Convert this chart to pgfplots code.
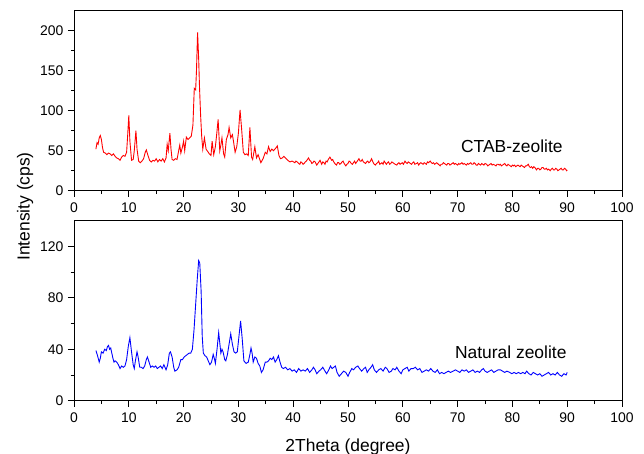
\documentclass[border=0pt]{standalone}
\usepackage{pgfplots}
\pgfplotsset{compat=1.18}
\usepackage{fontspec}
\setmainfont{Liberation Sans}
\begin{document}
\begin{tikzpicture}
\useasboundingbox (0bp,0bp) rectangle (644bp,454bp);
\pgfplotsset{
  panel/.style={
    scale only axis, width=548bp, height=180bp,
    anchor=south west,
    xmin=0, xmax=100,
    xtick={0,10,...,100},
    minor x tick num=1, minor y tick num=1,
    xtick pos=left, ytick pos=left,
    tick align=outside,
    major tick length=6bp, minor tick length=3.5bp,
    axis line style={line width=0.9pt},
    every tick/.style={black, line width=0.8pt},
    ticklabel style={font=\fontsize{14}{16}\selectfont},
    xticklabel style={yshift=-3bp},
    yticklabel style={xshift=-1bp},
    /pgf/number format/assume math mode=true,
    scaled ticks=false,
  }
}
\begin{axis}[panel, at={(74bp,263.3bp)}, ymin=0, ymax=225, ytick={0,50,100,150,200}]
\addplot[red, line width=0.9pt, mark=none] coordinates {
(4.0,52)(4.2,60)(4.4,58)(4.6,66)(4.8,69)(5.0,64)(5.2,54)(5.4,48)(5.7,47)(6.0,45)(6.3,47)(6.6,46)(6.9,44)(7.2,46)(7.5,43)(7.8,41)(8.1,40)(8.4,38)(8.7,42)(9.0,44)(9.3,43)(9.6,48)(9.8,70)(10.0,94)(10.2,62)(10.5,38)(10.8,39)(11.0,50)(11.3,75)(11.5,52)(11.8,37)(12.1,35)(12.4,37)(12.7,40)(13.0,48)(13.2,51)(13.5,44)(13.8,38)(14.1,36)(14.4,38)(14.7,37)(15.0,40)(15.3,36)(15.6,39)(15.9,37)(16.2,40)(16.5,36)(16.8,41)(17.0,58)(17.2,50)(17.5,72)(17.7,52)(17.9,39)(18.2,38)(18.5,40)(18.8,39)(19.1,50)(19.3,57)(19.5,47)(19.8,55)(20.0,62)(20.2,50)(20.5,67)(20.8,64)(21.1,66)(21.4,68)(21.7,82)(21.95,128)(22.2,126)(22.35,150)(22.55,198)(22.75,165)(22.9,130)(23.1,95)(23.3,68)(23.5,52)(23.8,66)(24.1,52)(24.4,49)(24.7,46)(25.0,44)(25.2,62)(25.5,45)(25.8,55)(26.0,68)(26.3,89)(26.6,50)(26.8,57)(27.0,66)(27.3,46)(27.5,42)(27.8,64)(28.1,70)(28.3,79)(28.6,66)(28.9,70)(29.1,62)(29.4,48)(29.7,55)(30.0,72)(30.3,101)(30.6,76)(30.9,48)(31.2,45)(31.5,46)(31.8,44)(32.1,79)(32.4,42)(32.6,39)(33.0,55)(33.3,41)(33.6,45)(34.1,35)(34.5,40)(34.9,48)(35.2,46)(35.5,55)(35.8,49)(36.1,52)(36.4,50)(36.8,53)(37.1,56)(37.4,44)(37.7,40)(38.0,41)(38.3,43)(38.7,40)(39.0,38)(39.4,36)(39.8,37)(40.3,35)(40.5,37)(40.7,36)(41.0,34)(41.2,33)(41.4,36)(41.6,35)(41.8,33)(42.0,34)(42.2,36)(42.4,37)(42.6,39)(42.8,41)(43.0,38)(43.2,37)(43.4,34)(43.6,35)(43.8,37)(44.0,36)(44.3,32)(44.6,35)(44.9,38)(45.2,33)(45.4,36)(45.6,35)(45.8,33)(46.0,37)(46.2,36)(46.4,39)(46.7,42)(47.0,38)(47.2,39)(47.4,36)(47.6,34)(47.9,32)(48.1,35)(48.3,35)(48.5,33)(48.7,34)(48.9,36)(49.1,37)(49.3,34)(49.6,31)(49.8,33)(50.0,34)(50.2,37)(50.4,36)(50.6,34)(50.8,33)(51.0,35)(51.2,37)(51.4,34)(51.6,36)(51.8,38)(52.0,40)(52.2,37)(52.4,37)(52.6,39)(52.8,36)(53.0,35)(53.2,34)(53.4,36)(53.6,37)(53.8,35)(54.0,36)(54.3,40)(54.6,35)(54.8,33)(55.0,32)(55.2,34)(55.4,35)(55.6,37)(55.8,33)(56.0,34)(56.2,35)(56.4,33)(56.6,37)(56.8,35)(57.0,33)(57.2,35)(57.4,36)(57.6,33)(57.8,34)(58.0,36)(58.2,35)(58.4,34)(58.6,33)(58.9,32)(59.1,34)(59.3,35)(59.5,33)(59.7,34)(59.9,35)(60.1,33)(60.4,37)(60.6,35)(60.8,34)(61.0,36)(61.2,35)(61.4,34)(61.6,33)(61.8,35)(62.0,36)(62.2,33)(62.5,34)(62.7,35)(62.9,32)(63.1,34)(63.3,35)(63.5,34)(63.7,33)(63.9,35)(64.1,34)(64.3,33)(64.5,36)(64.7,35)(65.0,37)(65.2,35)(65.4,34)(65.6,35)(65.8,33)(66.0,34)(66.2,35)(66.5,33)(66.8,31)(67.0,33)(67.2,33)(67.4,35)(67.6,34)(67.8,33)(68.0,32)(68.2,34)(68.4,34)(68.6,32)(68.8,33)(69.0,34)(69.2,35)(69.4,33)(69.6,34)(69.8,33)(70.0,32)(70.2,34)(70.4,33)(70.6,34)(70.8,35)(71.0,33)(71.2,34)(71.4,33)(71.6,32)(71.8,34)(72.0,33)(72.2,34)(72.4,35)(72.6,33)(72.8,33)(73.0,35)(73.2,34)(73.4,32)(73.6,32)(73.8,34)(74.0,33)(74.2,32)(74.4,34)(74.6,33)(74.8,32)(75.0,34)(75.3,33)(75.5,31)(75.7,32)(75.9,33)(76.1,34)(76.3,32)(76.5,33)(76.8,32)(77.0,31)(77.2,33)(77.4,33)(77.6,32)(77.8,33)(78.0,31)(78.2,32)(78.4,33)(78.6,34)(78.8,32)(79.0,31)(79.2,33)(79.4,32)(79.6,31)(79.8,30)(80.0,32)(80.2,31)(80.4,32)(80.6,30)(80.8,31)(81.0,32)(81.2,31)(81.4,30)(81.6,32)(81.8,31)(82.0,30)(82.2,29)(82.4,31)(82.6,31)(82.9,33)(83.1,30)(83.3,29)(83.5,30)(83.7,28)(83.9,30)(84.1,29)(84.4,26)(84.6,28)(84.8,28)(85.0,26)(85.2,27)(85.4,29)(85.6,29)(85.8,27)(86.0,27)(86.2,28)(86.4,26)(86.6,27)(86.9,25)(87.1,27)(87.3,28)(87.5,26)(87.7,26)(87.9,28)(88.1,27)(88.3,25)(88.5,26)(88.7,27)(88.9,28)(89.1,26)(89.3,26)(89.5,28)(89.7,27)(89.9,25)(90.0,26)
};
\node[font=\fontsize{17.5}{20}\selectfont] at (axis cs:79.9,56) {CTAB-zeolite};
\end{axis}
\begin{axis}[panel, at={(74bp,53.3bp)}, ymin=0, ymax=140, ytick={0,40,80,120}]
\addplot[blue, line width=0.9pt, mark=none] coordinates {
(4.0,39)(4.3,35)(4.6,30)(4.8,33)(5.0,38)(5.3,37)(5.6,40)(5.9,39)(6.1,42)(6.3,43)(6.5,40)(6.7,41)(6.9,37)(7.1,33)(7.3,30)(7.5,31)(7.8,30)(8.1,28)(8.4,25)(8.7,27)(9.0,26)(9.3,27)(9.6,32)(9.9,42)(10.2,49)(10.5,38)(10.8,28)(11.0,25)(11.2,31)(11.5,38)(11.7,34)(12.0,26)(12.3,26)(12.6,25)(12.9,27)(13.2,32)(13.4,34)(13.7,30)(14.0,26)(14.3,27)(14.6,26)(14.9,27)(15.2,25)(15.5,26)(15.8,27)(16.1,25)(16.4,28)(16.8,24)(17.1,28)(17.4,37)(17.6,38)(17.9,34)(18.2,26)(18.4,23)(18.8,24)(19.1,26)(19.5,32)(19.8,32)(20.1,34)(20.4,35)(20.7,36)(21.0,37)(21.3,37)(21.6,40)(21.9,55)(22.2,75)(22.5,95)(22.75,109)(22.95,107)(23.2,85)(23.4,50)(23.6,37)(23.9,35)(24.2,34)(24.5,31)(24.8,28)(25.1,30)(25.4,36)(25.6,33)(25.8,29)(26.1,40)(26.4,53)(26.6,45)(26.8,37)(27.0,40)(27.2,38)(27.5,32)(27.7,31)(28.0,36)(28.3,44)(28.6,52)(28.9,44)(29.2,38)(29.5,37)(29.8,38)(30.1,50)(30.4,62)(30.7,48)(31.0,31)(31.4,29)(31.8,30)(32.1,36)(32.3,41)(32.5,37)(32.7,30)(33.0,34)(33.3,33)(33.6,29)(33.9,27)(34.2,22)(34.5,24)(34.9,30)(35.2,30)(35.5,31)(35.8,33)(36.1,32)(36.4,34)(36.7,30)(37.0,32)(37.3,35)(37.6,30)(37.9,26)(38.2,25)(38.6,26)(39.0,24)(39.4,25)(39.8,23)(40.2,24)(40.6,22)(41.0,25)(41.4,23)(41.8,24)(42.2,23)(42.6,25)(43.0,22)(43.4,24)(43.7,26)(44.0,24)(44.3,21)(44.7,23)(45.0,24)(45.4,26)(45.8,23)(46.1,21)(46.5,24)(46.8,27)(47.1,25)(47.4,26)(47.7,27)(48.0,22)(48.4,19)(48.8,21)(49.2,23)(49.6,22)(50.0,19)(50.3,22)(50.7,25)(51.0,24)(51.4,26)(51.8,27)(52.1,25)(52.5,23)(52.9,25)(53.2,26)(53.5,22)(53.8,24)(54.2,26)(54.5,28)(54.8,24)(55.2,22)(55.6,24)(56.0,25)(56.4,23)(56.8,26)(57.1,25)(57.5,22)(57.9,23)(58.2,25)(58.6,24)(58.9,26)(59.3,23)(59.7,21)(60.0,24)(60.4,25)(60.8,26)(61.1,23)(61.5,25)(61.9,25)(62.3,26)(62.7,24)(63.1,25)(63.5,22)(63.9,23)(64.3,24)(64.7,23)(65.1,25)(65.5,23)(65.9,22)(66.3,24)(66.7,21)(67.1,22)(67.5,21)(67.9,22)(68.3,23)(68.7,22)(69.2,23)(69.6,24)(70.0,23)(70.4,22)(70.8,24)(71.2,23)(71.6,24)(72.0,22)(72.4,23)(72.8,24)(73.2,22)(73.6,23)(74.0,22)(74.4,24)(74.7,25)(75.0,23)(75.4,22)(75.8,23)(76.2,24)(76.6,22)(77.0,23)(77.4,24)(77.8,24)(78.2,23)(78.6,22)(79.0,23)(79.5,22)(79.9,21)(80.3,22)(80.7,21)(81.1,22)(81.5,21)(81.9,22)(82.3,21)(82.6,23)(83.0,21)(83.4,20)(83.8,22)(84.2,21)(84.6,20)(85.0,21)(85.4,19)(85.8,20)(86.2,21)(86.6,22)(87.0,20)(87.4,21)(87.8,20)(88.2,22)(88.6,20)(89.0,19)(89.4,21)(89.8,20)(90.0,22)
};
\node[font=\fontsize{17.5}{20}\selectfont] at (axis cs:79.7,37.5) {Natural zeolite};
\end{axis}
\node[rotate=90, font=\fontsize{17.5}{20}\selectfont] at (25bp,247.5bp) {Intensity (cps)};
\node[font=\fontsize{17.5}{20}\selectfont] at (348bp,7.5bp) {2Theta (degree)};
\end{tikzpicture}
\end{document}
